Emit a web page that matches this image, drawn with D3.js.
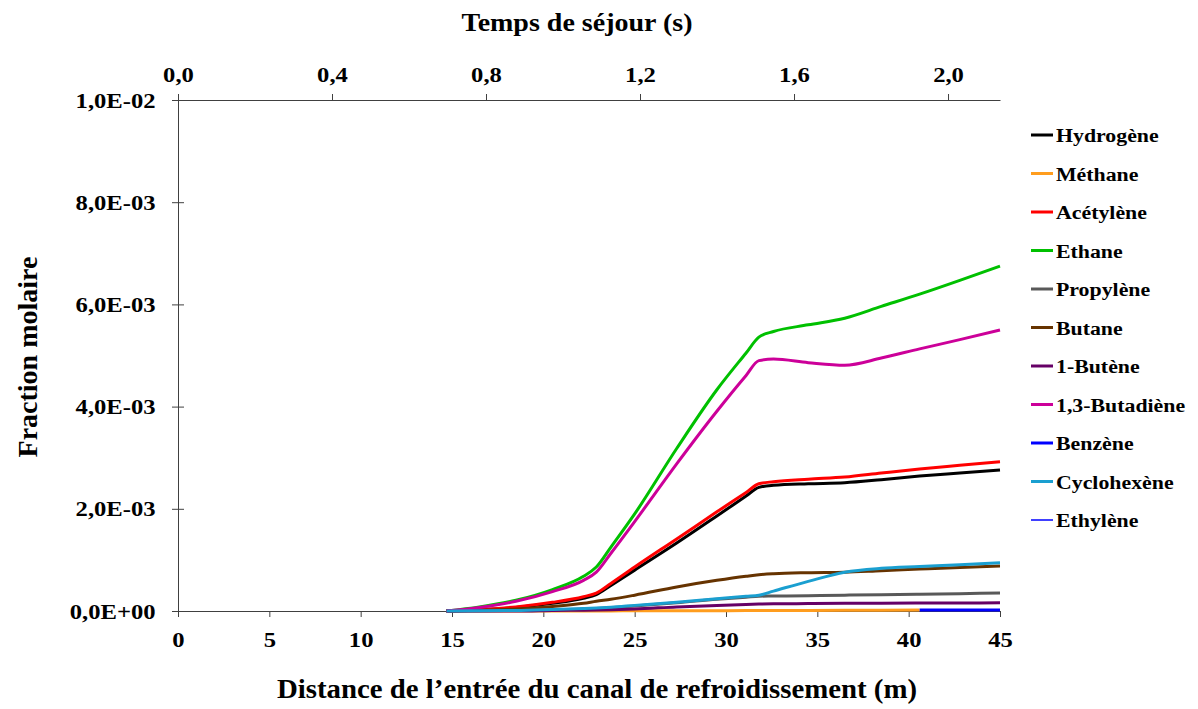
<!DOCTYPE html>
<html>
<head>
<meta charset="utf-8">
<script src="https://cdn.jsdelivr.net/npm/d3@7"></script>
<style>
  body { margin: 0; background: #fff; }
  svg { display: block; }
  text { font-family: "Liberation Serif", "Times New Roman", serif; font-weight: bold; fill: #000; }
</style>
</head>
<body>
<div id="chart"></div>
<script>
// distance from the cooling channel entrance (m)
const distance = [14.7, 16.5, 18.5, 20.5, 22.2, 22.9, 23.7, 25, 27.3, 29.5, 31.1, 31.8, 32.6, 34.5, 36.5, 38.5, 40.6, 42.8, 45];

// molar fractions (x 1e-3) (null = no point)
const hydrogene   = [0, 0.025, 0.07, 0.15, 0.25, 0.32, 0.50, 0.80, 1.33, 1.86, 2.25, 2.42, 2.46, 2.49, 2.51, 2.57, 2.64, 2.70, 2.76];
const methane     = [0, 0, 0, 0, 0.001, 0.001, 0.002, 0.003, 0.005, 0.007, 0.008, 0.009, 0.010, 0.012, 0.014, 0.017, 0.020, null, null];
const acetylene   = [0, 0.03, 0.08, 0.17, 0.28, 0.35, 0.54, 0.86, 1.41, 1.94, 2.32, 2.49, 2.53, 2.58, 2.62, 2.70, 2.78, 2.85, 2.92];
const ethane      = [0, 0.08, 0.21, 0.42, 0.68, 0.86, 1.25, 1.90, 3.18, 4.33, 5.05, 5.36, 5.47, 5.60, 5.73, 5.96, 6.20, 6.47, 6.75];
const propylene   = [0, 0.005, 0.01, 0.025, 0.04, 0.05, 0.065, 0.10, 0.16, 0.23, 0.27, 0.29, 0.293, 0.30, 0.31, 0.32, 0.33, 0.34, 0.35];
const butane      = [0, 0.015, 0.04, 0.09, 0.15, 0.19, 0.23, 0.31, 0.47, 0.60, 0.68, 0.71, 0.73, 0.75, 0.76, 0.79, 0.82, 0.85, 0.88];
const butene1     = [0, 0, 0, 0.01, 0.017, 0.02, 0.025, 0.04, 0.08, 0.11, 0.128, 0.135, 0.14, 0.145, 0.15, 0.152, 0.155, 0.157, 0.16];
const butadiene   = [0, 0.07, 0.19, 0.38, 0.60, 0.76, 1.13, 1.75, 2.88, 3.91, 4.61, 4.90, 4.93, 4.86, 4.81, 4.95, 5.13, 5.31, 5.50];
const benzene     = [null, null, null, null, null, null, null, null, null, null, null, null, null, null, null, null, 0.02, 0.02, 0.02];
const cyclohexene = [0, 0.005, 0.01, 0.03, 0.05, 0.06, 0.075, 0.11, 0.17, 0.24, 0.29, 0.31, 0.39, 0.58, 0.76, 0.835, 0.87, 0.906, 0.945];
const ethylene    = [null, null, null, null, null, null, null, null, null, null, null, null, null, null, null, null, null, null, null];

const seriesNames = ["Hydrogène", "Méthane", "Acétylène", "Ethane", "Propylène", "Butane",
  "1-Butène", "1,3-Butadiène", "Benzène", "Cyclohexène", "Ethylène"];
const seriesValues = [hydrogene, methane, acetylene, ethane, propylene, butane,
  butene1, butadiene, benzene, cyclohexene, ethylene];
const seriesColors = ["#000000", "#ff9d1e", "#ff0000", "#00c000", "#595959", "#663300",
  "#660066", "#cc0099", "#0000ff", "#1a9fd0", "#0000ff"];

const distanceTicks = [0, 5, 10, 15, 20, 25, 30, 35, 40, 45];
const timeTicks = [0, 0.4, 0.8, 1.2, 1.6, 2.0];
const fractionTicks = [0, 0.002, 0.004, 0.006, 0.008, 0.01];

const width = 1198, height = 709;
const margin = {top: 100, right: 198, bottom: 98, left: 178};
const SX = 1.12; // the original type is a bit wide

const svg = d3.select("#chart").append("svg")
  .attr("width", width)
  .attr("height", height);

const x = d3.scaleLinear().domain([0, 45]).range([margin.left, width - margin.right]);
const xTime = d3.scaleLinear().domain([0, 2.135]).range([margin.left, width - margin.right]);
const y = d3.scaleLinear().domain([0, 0.01]).range([height - margin.bottom, margin.top]);

const comma = d => d3.format(".1f")(d).replace(".", ",");
const sci = function (d) {
  if (d === 0) return "0,0E+00";
  let e = Math.floor(Math.log10(d) + 1e-9);
  let m = d / Math.pow(10, e);
  return comma(m) + "E" + (e < 0 ? "-" : "+") + String(Math.abs(e)).padStart(2, "0");
};

function styleAxis(g, size) {
  g.select(".domain").attr("stroke", "#404040");
  g.selectAll(".tick line").attr("stroke", "#404040");
  g.selectAll(".tick text")
    .style("font-size", size + "px")
    .attr("fill", "#000")
    .attr("transform", "scale(" + SX + ",1)");
}

// bottom axis
let gx = svg.append("g")
  .attr("transform", "translate(0," + y(0) + ")")
  .call(d3.axisBottom(x).tickValues(distanceTicks).tickSize(6).tickSizeOuter(0).tickPadding(14));
styleAxis(gx, 22);

// top axis (residence time)
let gt = svg.append("g")
  .attr("transform", "translate(0," + y(0.01) + ")")
  .call(d3.axisTop(xTime).tickValues(timeTicks).tickFormat(comma).tickSize(6).tickSizeOuter(0).tickPadding(12));
styleAxis(gt, 22);

// left axis
let gy = svg.append("g")
  .attr("transform", "translate(" + x(0) + ",0)")
  .call(d3.axisLeft(y).tickValues(fractionTicks).tickFormat(sci).tickSize(6).tickSizeOuter(0).tickPadding(14));
styleAxis(gy, 22);
gy.selectAll(".tick line").attr("x1", 6);

// axis titles
svg.append("text")
  .attr("transform", "translate(577,31) scale(" + SX + ",1)")
  .attr("text-anchor", "middle")
  .style("font-size", "25px")
  .text("Temps de séjour (s)");

svg.append("text")
  .attr("transform", "translate(597,698) scale(1.03,1)")
  .attr("text-anchor", "middle")
  .style("font-size", "28px")
  .text("Distance de l’entrée du canal de refroidissement (m)");

svg.append("text")
  .attr("transform", "translate(37,357) rotate(-90)")
  .attr("text-anchor", "middle")
  .style("font-size", "28px")
  .text("Fraction molaire");

// series
const line = d3.line()
  .defined(d => d[1] !== null)
  .x(d => x(d[0]))
  .y(d => y(d[1] * 1e-3))
  .curve(d3.curveMonotoneX);

seriesValues.forEach(function (vals, i) {
  let pts = distance.map((d, j) => [d, vals[j]]);
  svg.append("path")
    .datum(pts)
    .attr("fill", "none")
    .attr("stroke", seriesColors[i])
    .attr("stroke-width", i === 10 ? 1.5 : 3)
    .attr("d", line);
});

// legend
let legend = svg.append("g");
seriesNames.forEach(function (name, i) {
  let ly = 135 + i * 38.5;
  legend.append("line")
    .attr("x1", 1031).attr("x2", 1053)
    .attr("y1", ly).attr("y2", ly)
    .attr("stroke", seriesColors[i])
    .attr("stroke-width", i === 10 ? 1.5 : 3);
  legend.append("text")
    .attr("transform", "translate(1056," + (ly + 7) + ") scale(" + SX + ",1)")
    .style("font-size", "19.5px")
    .text(name);
});
</script>
</body>
</html>
